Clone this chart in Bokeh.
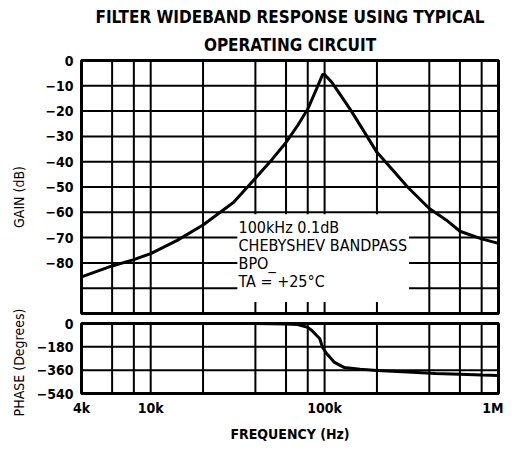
import numpy as np
from bokeh.plotting import figure
from bokeh.layouts import column, row
from bokeh.models import FixedTicker, Range1d, Label, Title
from bokeh.embed import file_html
from bokeh.resources import INLINE

# ---------------- data ----------------
title_line1 = "FILTER WIDEBAND RESPONSE USING TYPICAL"
title_line2 = "OPERATING CIRCUIT"

gain_freq_hz = [4000, 6000, 8000, 10000, 14200, 20000, 30000, 40000, 50000, 60000,
                70000, 80000, 90000, 97500, 100000, 110000, 120000, 142000, 200000,
                250000, 300000, 400000, 500000, 600000, 800000, 1000000]
gain_db = [-85.5, -81.2, -78.7, -76.3, -71.1, -65.0, -56.0, -46.5, -39.0, -32.4,
           -25.7, -19.2, -11.1, -5.5, -5.5, -8.6, -12.4, -19.8, -36.3,
           -43.8, -50.0, -58.5, -63.0, -67.5, -70.5, -72.3]

phase_freq_hz = [4000, 10000, 30000, 50000, 60000, 70000, 80000, 84500, 90000, 93700,
                 97400, 100000, 102600, 108000, 114000, 130000, 160000, 200000,
                 300000, 434000, 600000, 800000, 1000000]
phase_deg = [0, 0, 0, -1, -3, -8, -30, -54, -92, -116,
             -185, -208, -231, -265, -300, -340, -352, -363,
             -375, -386, -392, -398, -401]

grid_freqs = [6000, 8000, 10000, 20000, 40000, 60000, 80000, 100000,
              200000, 400000, 600000, 800000]
freq_ticks = [4000, 10000, 100000, 1000000]
freq_tick_labels = ["4k", "10k", "100k", "1M"]

gain_ticks = [0, -10, -20, -30, -40, -50, -60, -70, -80]
gain_grid = [-10, -20, -30, -40, -50, -60, -70, -80, -90]
phase_ticks = [0, -180, -360, -540]
phase_grid = [-180, -360]

note_lines = ["100kHz 0.1dB", "CHEBYSHEV BANDPASS", "BPO_", "TA = +25°C"]
gain_axis_title = "GAIN (dB)"
phase_axis_title = "PHASE (Degrees)"
freq_axis_title = "FREQUENCY (Hz)"

# ---------------- styling ----------------
FONT = "DejaVu Sans Condensed"
X_RANGE = (4000, 1000000)
GAIN_RANGE = (-100, 0)
PHASE_RANGE = (-540, 0)

LAB_W = 28          # strip holding the rotated y titles
FRAME_W = 417
LEFT_IN = 53        # space for tick labels inside each plot
RIGHT_B = 5
P1_TOP, P1_FRAME_H, P1_BOT = 60, 253, 4
P2_TOP, P2_FRAME_H, P2_BOT = 6, 70, 52
TOTAL_H = P1_TOP + P1_FRAME_H + P1_BOT + P2_TOP + P2_FRAME_H + P2_BOT


def style_axes(p):
    p.xgrid.visible = False
    p.ygrid.visible = False
    p.outline_line_color = "black"
    p.outline_line_width = 3
    p.background_fill_color = "white"
    p.border_fill_color = "white"
    for ax in p.xaxis + p.yaxis:
        ax.axis_line_color = None
        ax.major_tick_line_color = None
        ax.minor_tick_line_color = None
        ax.major_tick_out = 0
        ax.major_tick_in = 0
        ax.minor_tick_out = 0
        ax.minor_tick_in = 0
        ax.major_label_text_font = FONT
        ax.major_label_text_font_style = "bold"
        ax.major_label_text_font_size = "14px"
        ax.major_label_text_color = "black"
        ax.axis_label_text_font = FONT
        ax.axis_label_text_font_style = "bold"
        ax.axis_label_text_font_size = "14px"
        ax.axis_label_text_color = "black"


x_range = Range1d(*X_RANGE)
fig_w = LEFT_IN + FRAME_W + RIGHT_B

# ---------------- gain plot ----------------
p1 = figure(width=fig_w, height=P1_TOP + P1_FRAME_H + P1_BOT, x_axis_type="log",
            x_range=x_range, y_range=Range1d(*GAIN_RANGE), output_backend="svg",
            toolbar_location=None, min_border_left=LEFT_IN, min_border_right=RIGHT_B,
            min_border_top=P1_TOP, min_border_bottom=P1_BOT, title=title_line1)
p1.title.align = "center"
p1.title.text_font = FONT
p1.title.text_font_style = "bold"
p1.title.text_font_size = "17px"
p1.title.text_color = "black"
p1.title.standoff = 0
t2 = Title(text=title_line2, align="center", text_font=FONT, text_font_style="bold",
           text_font_size="17px", text_color="black", standoff=12)
p1.add_layout(t2, "above")
style_axes(p1)
p1.xaxis.visible = False
p1.yaxis.ticker = FixedTicker(ticks=gain_ticks)
p1.yaxis.major_label_standoff = 8

g_lo, g_hi = GAIN_RANGE
p1.segment(x0=grid_freqs, y0=[g_lo] * len(grid_freqs), x1=grid_freqs,
           y1=[g_hi] * len(grid_freqs), line_color="black", line_width=2)
p1.segment(x0=[X_RANGE[0]] * len(gain_grid), y0=gain_grid,
           x1=[X_RANGE[1]] * len(gain_grid), y1=gain_grid,
           line_color="black", line_width=2)
# white panel behind the annotation text
p1.quad(left=[31500], right=[306000], bottom=[-95.5], top=[-60.8],
        fill_color="white", line_color=None)
p1.line(gain_freq_hz, gain_db, line_color="black", line_width=3)

note = Label(x=32000, y=-62.3, x_units="data", y_units="data",
             text="\n".join(note_lines), text_font=FONT, text_font_size="16px",
             text_baseline="top", text_align="left", text_line_height=0.95,
             text_color="black")
p1.add_layout(note)

# ---------------- phase plot ----------------
p2 = figure(width=fig_w, height=P2_TOP + P2_FRAME_H + P2_BOT, x_axis_type="log",
            x_range=x_range, y_range=Range1d(*PHASE_RANGE), output_backend="svg",
            toolbar_location=None, min_border_left=LEFT_IN, min_border_right=RIGHT_B,
            min_border_top=P2_TOP, min_border_bottom=P2_BOT)
style_axes(p2)
p2.yaxis.ticker = FixedTicker(ticks=phase_ticks)
p2.yaxis.major_label_standoff = 8
p2.xaxis.ticker = FixedTicker(ticks=freq_ticks)
p2.xaxis.major_label_overrides = {f: lab for f, lab in zip(freq_ticks, freq_tick_labels)}
p2.xaxis.major_label_standoff = 6
p2.xaxis.axis_label = freq_axis_title
p2.xaxis.axis_label_standoff = 7

p_lo, p_hi = PHASE_RANGE
p2.segment(x0=grid_freqs, y0=[p_lo] * len(grid_freqs), x1=grid_freqs,
           y1=[p_hi] * len(grid_freqs), line_color="black", line_width=2)
p2.segment(x0=[X_RANGE[0]] * len(phase_grid), y0=phase_grid,
           x1=[X_RANGE[1]] * len(phase_grid), y1=phase_grid,
           line_color="black", line_width=2)
p2.line(phase_freq_hz, phase_deg, line_color="black", line_width=3)

# ---------------- strip with the rotated y titles ----------------
lab = figure(width=LAB_W, height=TOTAL_H, x_range=Range1d(0, LAB_W),
             y_range=Range1d(TOTAL_H, 0), output_backend="svg", toolbar_location=None,
             min_border=0, x_axis_location=None, y_axis_location=None)
lab.grid.visible = False
lab.outline_line_color = None
gain_mid = P1_TOP + P1_FRAME_H / 2 + 10
phase_mid = P1_TOP + P1_FRAME_H + P1_BOT + P2_TOP + P2_FRAME_H / 2 + 4
for txt, ymid in ((gain_axis_title, gain_mid), (phase_axis_title, phase_mid)):
    lab.add_layout(Label(x=18, y=ymid, text=txt, angle=np.pi / 2, text_align="center",
                         text_baseline="middle", text_font=FONT,
                         text_font_size="14px", text_color="black"))

layout = row(lab, column(p1, p2, spacing=0), spacing=0)
open("out.html", "w").write(file_html(layout, INLINE))
